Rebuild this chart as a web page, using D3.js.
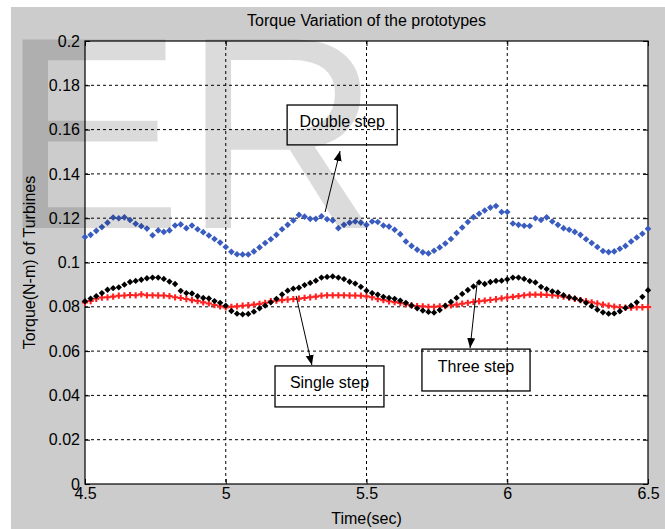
<!DOCTYPE html>
<html>
<head>
<meta charset="utf-8">
<script src="https://cdn.jsdelivr.net/npm/d3@7"></script>
<style>
  body { margin: 0; background: #fff; }
  text { font-family: "Liberation Sans", Arial, sans-serif; fill: #000; }
</style>
</head>
<body>
<div class="chart"></div>
<script>
// chart size
var svgWidth = 665;
var svgHeight = 529;

var margin = { top: 41, right: 17, bottom: 45, left: 85 },
  chartWidth = svgWidth - margin.left - margin.right,
  chartHeight = svgHeight - margin.top - margin.bottom;

// time samples (every 0.02 s)
var times = d3.range(101).map(i => +(4.5 + i * 0.02).toFixed(2));

var xTicks = [4.5, 5, 5.5, 6, 6.5];
var yTicks = [0, 0.02, 0.04, 0.06, 0.08, 0.1, 0.12, 0.14, 0.16, 0.18, 0.2];

// Double step (blue)
var doubleStep = [
  0.1115, 0.1125, 0.1143, 0.1160, 0.1180, 0.1203, 0.1200, 0.1204, 0.1192, 0.1175,
  0.1164, 0.1153, 0.1123, 0.1145, 0.1138, 0.1145, 0.1167, 0.1172, 0.1155, 0.1167,
  0.1150, 0.1137, 0.1122, 0.1106, 0.1090, 0.1070,
  0.1048, 0.1037, 0.1036, 0.1036, 0.1050, 0.1068, 0.1088, 0.1105, 0.1125, 0.1150,
  0.1170, 0.1190, 0.1215, 0.1207, 0.1197, 0.1197, 0.1209, 0.1195, 0.1190, 0.1155,
  0.1170, 0.1180, 0.1185, 0.1180, 0.1170,
  0.1185, 0.1183, 0.1167, 0.1162, 0.1148, 0.1128, 0.1095, 0.1075, 0.1058, 0.1046,
  0.1041, 0.1053, 0.1068, 0.1086, 0.1106, 0.1133, 0.1158, 0.1183, 0.1205, 0.1220,
  0.1235, 0.1248, 0.1255, 0.1228, 0.1228,
  0.1176, 0.1170, 0.1166, 0.1165, 0.1200, 0.1192, 0.1204, 0.1185, 0.1170, 0.1155,
  0.1148, 0.1138, 0.1125, 0.1105, 0.1088, 0.1070, 0.1052, 0.1047, 0.1050, 0.1062,
  0.1075, 0.1095, 0.1113, 0.1130, 0.1152
];

// Single step (red)
var singleStep = [
  0.0820, 0.0826, 0.0836, 0.0842, 0.0843, 0.0846, 0.0850, 0.0851, 0.0853, 0.0852,
  0.0856, 0.0852, 0.0852, 0.0851, 0.0851, 0.0848, 0.0843, 0.0840, 0.0835, 0.0830,
  0.0826, 0.0820, 0.0815, 0.0808, 0.0802, 0.0797,
  0.0800, 0.0802, 0.0805, 0.0807, 0.0810, 0.0813, 0.0818, 0.0825, 0.0828, 0.0830,
  0.0833, 0.0835, 0.0837, 0.0840, 0.0843, 0.0846, 0.0850, 0.0852, 0.0852, 0.0852,
  0.0852, 0.0851, 0.0851, 0.0850, 0.0847,
  0.0843, 0.0835, 0.0830, 0.0825, 0.0821, 0.0817, 0.0811, 0.0806, 0.0803, 0.0802,
  0.0800, 0.0800, 0.0802, 0.0803, 0.0807, 0.0810, 0.0814, 0.0818, 0.0822, 0.0825,
  0.0828, 0.0831, 0.0834, 0.0838, 0.0842,
  0.0845, 0.0848, 0.0852, 0.0855, 0.0855, 0.0855, 0.0854, 0.0852, 0.0850, 0.0846,
  0.0842, 0.0836, 0.0830, 0.0825, 0.0820, 0.0815, 0.0810, 0.0805, 0.0801, 0.0798,
  0.0796, 0.0796, 0.0798, 0.0798, 0.0799
];

// Three step (black)
var threeStep = [
  0.0825, 0.0837, 0.0848, 0.0862, 0.0877, 0.0884, 0.0888, 0.0900, 0.0912, 0.0917,
  0.0922, 0.0929, 0.0932, 0.0932, 0.0926, 0.0914, 0.0903, 0.0872, 0.0862, 0.0860,
  0.0848, 0.0840, 0.0838, 0.0826, 0.0818, 0.0805,
  0.0781, 0.0769, 0.0766, 0.0768, 0.0778, 0.0793, 0.0805, 0.0820, 0.0836, 0.0856,
  0.0873, 0.0882, 0.0886, 0.0898, 0.0908, 0.0918, 0.0932, 0.0935, 0.0937, 0.0932,
  0.0925, 0.0913, 0.0905, 0.0890, 0.0873,
  0.0862, 0.0855, 0.0845, 0.0840, 0.0836, 0.0828, 0.0818, 0.0806, 0.0793, 0.0783,
  0.0777, 0.0774, 0.0785, 0.0805, 0.0822, 0.0840, 0.0858, 0.0876, 0.0892, 0.0910,
  0.0903, 0.0912, 0.0917, 0.0918, 0.0924,
  0.0932, 0.0932, 0.0926, 0.0916, 0.0910, 0.0890, 0.0880, 0.0870, 0.0865, 0.0852,
  0.0843, 0.0838, 0.0830, 0.0818, 0.0803, 0.0787, 0.0775, 0.0769, 0.0770, 0.0780,
  0.0795, 0.0805, 0.0820, 0.0845, 0.0875
];

// text boxes with arrows, in data units: box [t0, t1, v0, v1], arrow from -> to
var notes = [
  { label: "Double step", box: [5.218, 5.609, 0.1531, 0.1711], from: [5.353, 0.1228], to: [5.406, 0.1503] },
  { label: "Single step", box: [5.175, 5.562, 0.0348, 0.0533], from: [5.250, 0.0849], to: [5.306, 0.0537] },
  { label: "Three step",  box: [5.697, 6.081, 0.0420, 0.0609], from: [5.893, 0.0907], to: [5.868, 0.0614] }
];

var svg = d3.select(".chart").append("svg")
  .attr("width", svgWidth)
  .attr("height", svgHeight);

// figure background
svg.append("rect")
  .attr("x", 11).attr("y", 7)
  .attr("width", svgWidth - 11).attr("height", svgHeight - 7)
  .attr("fill", "#cccccc");

var chartGroup = svg.append("g")
  .attr("transform", `translate(${margin.left}, ${margin.top})`);

chartGroup.append("rect")
  .attr("width", chartWidth)
  .attr("height", chartHeight)
  .attr("fill", "#fff");

// watermark letters
svg.append("g")
  .selectAll("text")
  .data([["E", 0], ["R", 183]])
  .enter()
  .append("text")
  .attr("x", d => d[1])
  .attr("y", 228)
  .style("font-size", "274px")
  .style("fill", "#000")
  .style("fill-opacity", 0.14)
  .text(d => d[0]);

var xScale = d3.scaleLinear().domain([4.5, 6.5]).range([0, chartWidth]);
var yScale = d3.scaleLinear().domain([0, 0.2]).range([chartHeight, 0]);

// grid
chartGroup.append("g")
  .selectAll("line")
  .data(xTicks.slice(1, -1))
  .enter()
  .append("line")
  .attr("x1", d => xScale(d)).attr("x2", d => xScale(d))
  .attr("y1", 0).attr("y2", chartHeight)
  .attr("stroke", "#000")
  .attr("stroke-dasharray", "3,3");

chartGroup.append("g")
  .selectAll("line")
  .data(yTicks.slice(1, -1))
  .enter()
  .append("line")
  .attr("y1", d => yScale(d)).attr("y2", d => yScale(d))
  .attr("x1", 0).attr("x2", chartWidth)
  .attr("stroke", "#000")
  .attr("stroke-dasharray", "3,3");

// axes (ticks inside like matlab)
var leftAxis = d3.axisLeft(yScale).tickValues(yTicks).tickSize(-5).tickPadding(5)
  .tickFormat(d => d === 0 ? "0" : String(+d.toFixed(2)));
var bottomAxis = d3.axisBottom(xScale).tickValues(xTicks).tickSize(-5).tickPadding(5)
  .tickFormat(d => String(d));

var gl = chartGroup.append("g").call(leftAxis);
var gb = chartGroup.append("g")
  .attr("transform", `translate(0, ${chartHeight})`)
  .call(bottomAxis);
chartGroup.append("g")
  .attr("transform", `translate(${chartWidth}, 0)`)
  .call(d3.axisRight(yScale).tickValues(yTicks).tickSize(-5).tickFormat(""));
chartGroup.append("g")
  .call(d3.axisTop(xScale).tickValues(xTicks).tickSize(-5).tickFormat(""));

chartGroup.selectAll(".domain").attr("stroke", "none");
chartGroup.selectAll(".tick line").attr("stroke", "#000");
[gl, gb].forEach(g => g.selectAll("text")
  .style("font-size", "16px")
  .style("font-family", "'Liberation Sans', Arial, sans-serif")
  .attr("fill", "#000"));
gb.selectAll("text").attr("dy", "0.72em").attr("y", 3);

chartGroup.append("rect")
  .attr("width", chartWidth)
  .attr("height", chartHeight)
  .attr("fill", "none")
  .attr("stroke", "#000")
  .attr("stroke-width", 1.2);

// series markers
var series = [
  { values: singleStep, color: "#ff2222", symbol: d3.symbolCross, size: 22, rot: 0 },
  { values: threeStep, color: "#000000", symbol: d3.symbolSquare, size: 20, rot: 45 },
  { values: doubleStep, color: "#3a5cc0", symbol: d3.symbolSquare, size: 22, rot: 45 }
];

series.forEach(function(s) {
  chartGroup.append("g")
    .selectAll("path")
    .data(times.map((t, i) => [t, s.values[i]]))
    .enter()
    .append("path")
    .attr("transform", d => `translate(${xScale(d[0])}, ${yScale(d[1])}) rotate(${s.rot})`)
    .attr("d", d3.symbol().type(s.symbol).size(s.size))
    .attr("fill", s.color);
});

// arrow head
svg.append("defs").append("marker")
  .attr("id", "head")
  .attr("viewBox", "0 0 10 10")
  .attr("refX", 10).attr("refY", 5)
  .attr("markerWidth", 10).attr("markerHeight", 10)
  .attr("markerUnits", "userSpaceOnUse")
  .attr("orient", "auto")
  .append("path")
  .attr("d", "M0,1 L10,5 L0,9 Z")
  .attr("fill", "#000");

notes.forEach(function(n) {
  var x0 = xScale(n.box[0]), x1 = xScale(n.box[1]);
  var y0 = yScale(n.box[3]), y1 = yScale(n.box[2]);
  chartGroup.append("rect")
    .attr("x", x0).attr("y", y0)
    .attr("width", x1 - x0).attr("height", y1 - y0)
    .attr("fill", "none")
    .attr("stroke", "#000")
    .attr("stroke-width", 1.3);
  chartGroup.append("text")
    .attr("x", (x0 + x1) / 2)
    .attr("y", (y0 + y1) / 2)
    .attr("dy", "0.1em")
    .attr("text-anchor", "middle")
    .style("font-size", "16px")
    .text(n.label);
  chartGroup.append("line")
    .attr("x1", xScale(n.from[0])).attr("y1", yScale(n.from[1]))
    .attr("x2", xScale(n.to[0])).attr("y2", yScale(n.to[1]))
    .attr("stroke", "#000")
    .attr("stroke-width", 1)
    .attr("marker-end", "url(#head)");
});

// titles
svg.append("text")
  .attr("x", margin.left + chartWidth / 2)
  .attr("y", 26)
  .attr("text-anchor", "middle")
  .style("font-size", "16px")
  .text("Torque Variation of the prototypes");

svg.append("text")
  .attr("x", margin.left + chartWidth / 2)
  .attr("y", 524)
  .attr("text-anchor", "middle")
  .style("font-size", "16px")
  .text("Time(sec)");

svg.append("text")
  .attr("transform", "rotate(-90)")
  .attr("x", -(margin.top + chartHeight / 2))
  .attr("y", 35)
  .attr("text-anchor", "middle")
  .style("font-size", "16px")
  .text("Torque(N-m) of Turbines");
</script>
</body>
</html>
